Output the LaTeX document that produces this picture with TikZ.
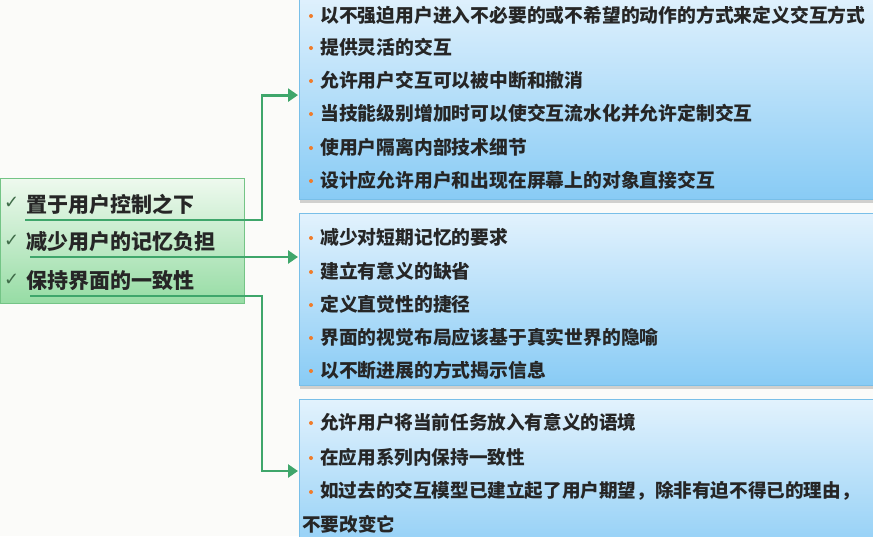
\documentclass[tikz,border=0pt]{standalone}
\usepackage{fontspec}
\setmainfont{Noto Sans CJK SC}
\newfontfamily\symfont{DejaVu Sans}
\usetikzlibrary{arrows.meta,shadows}
\definecolor{pagebg}{HTML}{FBFBF9}
\definecolor{bluetop}{HTML}{E2F2FD}
\definecolor{bluebot}{HTML}{88CBF5}
\definecolor{blueedge}{HTML}{79BFE8}
\definecolor{greentop}{HTML}{EEF9EE}
\definecolor{greenbot}{HTML}{96DCA4}
\definecolor{greenedge}{HTML}{74C486}
\definecolor{connc}{HTML}{3FA66B}
\definecolor{bulletc}{HTML}{F07C2A}
\definecolor{textc}{HTML}{262626}
\definecolor{checkc}{HTML}{3F6B48}
\tikzset{
  x=1pt, y=-1pt,
  bluebox/.style={draw=blueedge, line width=1.2pt, top color=bluetop, bottom color=bluebot,
    drop shadow={shadow xshift=0pt, shadow yshift=-3pt, opacity=0.35}, inner sep=0pt},
  greenbox/.style={draw=greenedge, line width=1.2pt, top color=greentop, bottom color=greenbot, inner sep=0pt},
  item/.style={anchor=west, inner sep=0pt, text=textc, font=\bfseries\fontsize{18.8}{22}\selectfont},
  item3/.style={item, font=\bfseries\fontsize{18.6}{22}\selectfont},
  topic/.style={anchor=west, inner sep=0pt, text=textc, font=\bfseries\fontsize{21}{24}\selectfont},
  tick/.style={anchor=west, inner sep=0pt, text=checkc, font=\symfont\fontsize{18}{20}\selectfont},
  dot/.style={fill=bulletc},
  conn/.style={draw=connc, line width=2.8pt, -{Triangle[length=10pt,width=13pt]}, shorten >=1pt}
}
\begin{document}
\begin{tikzpicture}
\useasboundingbox (0,0) rectangle (873,536);
\fill[pagebg] (0,0) rectangle (873,536);
\clip (0,0) rectangle (873,536);

% right-hand panels
\node[bluebox, anchor=north west, minimum width=600, minimum height=209] (b1) at (299,-10) {};
\node[bluebox, anchor=north west, minimum width=600, minimum height=172] (b2) at (299,213) {};
\node[bluebox, anchor=north west, minimum width=600, minimum height=170] (b3) at (299,399) {};

% left-hand principles
\node[greenbox, anchor=north west, minimum width=244, minimum height=125] (g) at (0,178) {};
\node[tick]  (k1) at (4,203) {✓};
\node[topic] (t1) at (26,204) {置于用户控制之下};
\node[tick]  (k2) at (4,241) {✓};
\node[topic] (t2) at (26,242) {减少用户的记忆负担};
\node[tick]  (k3) at (4,280) {✓};
\node[topic] (t3) at (26,281) {保持界面的一致性};

% panel 1 items
\foreach \y/\t [count=\i] in {
  15/以不强迫用户进入不必要的或不希望的动作的方式来定义交互方式,
  47/提供灵活的交互,
  80/允许用户交互可以被中断和撤消,
  113/当技能级别增加时可以使交互流水化并允许定制交互,
  147/使用户隔离内部技术细节,
  180/设计应允许用户和出现在屏幕上的对象直接交互}{
  \fill[dot] (311,\y+1) circle (2pt);
  \node[item] (p1i\i) at (320,\y) {\t};
}

% panel 2 items
\foreach \y/\t [count=\i] in {
  237/减少对短期记忆的要求,
  271/建立有意义的缺省,
  304/定义直觉性的捷径,
  337/界面的视觉布局应该基于真实世界的隐喻,
  370/以不断进展的方式揭示信息}{
  \fill[dot] (311,\y+1) circle (2pt);
  \node[item] (p2i\i) at (320,\y) {\t};
}

% panel 3 items
\foreach \y/\t [count=\i] in {
  422/允许用户将当前任务放入有意义的语境,
  457/在应用系列内保持一致性,
  491/如过去的交互模型已建立起了用户期望，除非有迫不得已的理由，}{
  \fill[dot] (311,\y+1) circle (2pt);
  \node[item3] (p3i\i) at (320,\y) {\t};
}
\node[item3] (p3i4) at (302,524) {不要改变它};

% connectors from each principle to its panel
\coordinate (u1) at (25,220);
\coordinate (u2) at (30,257);
\coordinate (u3) at (30,296);
\coordinate (e3) at (299,471);
\draw[conn] (u1) -- (262,220) |- (b1.west);
\draw[conn] (u2) -- (u2 -| b2.west);
\draw[conn] (u3) -- (262,296) |- (e3);
\end{tikzpicture}
\end{document}
